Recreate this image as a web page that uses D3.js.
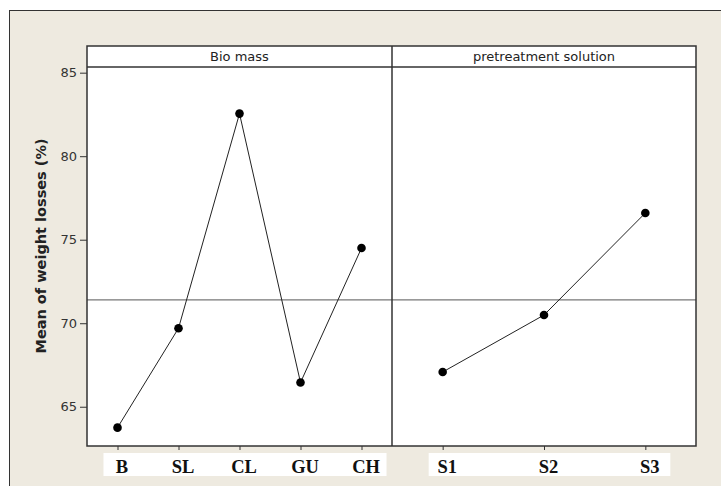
<!DOCTYPE html>
<html>
<head>
<meta charset="utf-8">
<script src="https://cdn.jsdelivr.net/npm/d3@7"></script>
<style>
  body { margin: 0; background: #fff; }
  svg { display: block; }
</style>
</head>
<body>
<svg id="chart" width="721" height="486"></svg>
<script>
// main effects data
const panels = ["Bio mass", "pretreatment solution"];
const bioLevels = ["B", "SL", "CL", "GU", "CH"];
const bioMeans = [63.75, 69.7, 82.55, 66.45, 74.5];
const solLevels = ["S1", "S2", "S3"];
const solMeans = [67.08, 70.49, 76.6];
const grandMean = 71.4;
const yTicks = [65, 70, 75, 80, 85];

const svg = d3.select("#chart");

const plotL = 87, plotR = 696, plotT = 46, headH = 21, plotB = 446;
const mid = 392;

// outer frame
svg.append("rect")
    .attr("x", 9.5).attr("y", 10.5)
    .attr("width", 730).attr("height", 500)
    .style("fill", "#eeeae0")
    .style("stroke", "#333");

const y = d3.scaleLinear()
    .domain([62.65, 85.34])
    .range([plotB, plotT + headH]);

const groups = [
    { name: panels[0], levels: bioLevels, values: bioMeans, x0: plotL, x1: mid },
    { name: panels[1], levels: solLevels, values: solMeans, x0: mid, x1: plotR }
];

// plot background
svg.append("rect")
    .attr("x", plotL).attr("y", plotT)
    .attr("width", plotR - plotL).attr("height", plotB - plotT)
    .style("fill", "white");

// mean line
svg.append("line")
    .attr("x1", plotL).attr("x2", plotR)
    .attr("y1", y(grandMean)).attr("y2", y(grandMean))
    .style("stroke", "#777").style("stroke-width", 1.2);

groups.forEach(g => {
    const x = d3.scalePoint().domain(g.levels).range([g.x0, g.x1]).padding(0.5);
    const pts = g.levels.map((l, i) => [x(l), y(g.values[i])]);

    svg.append("path")
        .attr("d", d3.line()(pts))
        .style("fill", "none")
        .style("stroke", "#222")
        .style("stroke-width", 1);

    svg.selectAll(null)
        .data(pts)
        .enter().append("circle")
        .attr("cx", d => d[0])
        .attr("cy", d => d[1])
        .attr("r", 4.3)
        .style("fill", "black");

    // header text
    svg.append("text")
        .attr("x", (g.x0 + g.x1) / 2)
        .attr("y", plotT + 15)
        .attr("text-anchor", "middle")
        .style("font-family", "DejaVu Sans, sans-serif")
        .style("font-size", "13px")
        .style("fill", "#222")
        .text(g.name);

    // bottom ticks
    const ax = svg.append("g")
        .attr("transform", `translate(0,${plotB})`)
        .call(d3.axisBottom(x).tickSize(4).tickFormat(""));
    ax.select(".domain").remove();
    ax.selectAll("line").style("stroke", "#333");

    // white label strip
    const first = x(g.levels[0]), last = x(g.levels[g.levels.length - 1]);
    svg.append("rect")
        .attr("x", first - 14).attr("y", plotB + 7)
        .attr("width", last - first + 39).attr("height", 23)
        .style("fill", "white");

    svg.selectAll(null)
        .data(g.levels)
        .enter().append("text")
        .attr("x", d => x(d) + 4.5)
        .attr("y", plotB + 26.5)
        .attr("text-anchor", "middle")
        .style("font-family", "Liberation Serif, serif")
        .style("font-weight", "bold")
        .style("font-size", "18.5px")
        .style("fill", "#111")
        .text(d => d);
});

// y axis
const yAx = svg.append("g")
    .attr("transform", `translate(${plotL},0)`)
    .call(d3.axisLeft(y).tickValues(yTicks).tickSize(7).tickPadding(3));
yAx.select(".domain").remove();
yAx.selectAll("line").style("stroke", "#333");
yAx.selectAll("text")
    .style("font-family", "DejaVu Sans, sans-serif")
    .style("font-size", "13px")
    .style("fill", "#333");

svg.append("text")
    .attr("transform", `translate(46,246) rotate(-90)`)
    .attr("text-anchor", "middle")
    .style("font-family", "DejaVu Sans, sans-serif")
    .style("font-weight", "bold")
    .style("font-size", "14.5px")
    .style("fill", "#222")
    .text("Mean of weight losses (%)");

// panel borders
svg.append("rect")
    .attr("x", plotL).attr("y", plotT)
    .attr("width", plotR - plotL).attr("height", plotB - plotT)
    .style("fill", "none").style("stroke", "#333").style("stroke-width", 1.5);
svg.append("line")
    .attr("x1", plotL).attr("x2", plotR)
    .attr("y1", plotT + headH).attr("y2", plotT + headH)
    .style("stroke", "#333").style("stroke-width", 1.5);
svg.append("line")
    .attr("x1", mid).attr("x2", mid)
    .attr("y1", plotT).attr("y2", plotB)
    .style("stroke", "#333").style("stroke-width", 1.5);
</script>
</body>
</html>
